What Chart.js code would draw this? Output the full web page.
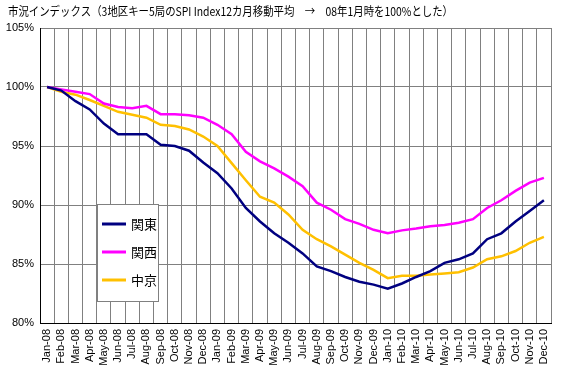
<!DOCTYPE html>
<html>
<head>
<meta charset="utf-8">
<script src="https://cdn.jsdelivr.net/npm/chart.js@4"></script>
<style>
html,body{margin:0;padding:0;background:#fff;}
#wrap{position:relative;width:566px;height:380px;}
</style>
</head>
<body>
<div id="wrap"><canvas id="c" width="566" height="380"></canvas></div>
<script>
const titleText = "市況インデックス（3地区キー5局のSPI Index12カ月移動平均　→　08年1月時を100%とした）";
const categories = [
  "Jan-08","Feb-08","Mar-08","Apr-08","May-08","Jun-08","Jul-08","Aug-08","Sep-08","Oct-08","Nov-08","Dec-08",
  "Jan-09","Feb-09","Mar-09","Apr-09","May-09","Jun-09","Jul-09","Aug-09","Sep-09","Oct-09","Nov-09","Dec-09",
  "Jan-10","Feb-10","Mar-10","Apr-10","May-10","Jun-10","Jul-10","Aug-10","Sep-10","Oct-10","Nov-10","Dec-10"
];
const seriesNames = ["関東","関西","中京"];
const kanto = [100,99.7,98.8,98.1,96.9,96.0,96.0,96.0,95.1,95.0,94.6,93.6,
  92.7,91.4,89.75,88.6,87.6,86.8,85.9,84.8,84.4,83.9,83.5,83.25,
  82.9,83.35,83.9,84.4,85.1,85.4,85.9,87.1,87.6,88.6,89.5,90.4];
const kansai = [100,99.8,99.6,99.4,98.6,98.3,98.2,98.4,97.7,97.7,97.6,97.4,
  96.8,96.0,94.5,93.7,93.1,92.4,91.6,90.2,89.6,88.8,88.4,87.9,
  87.6,87.85,88.0,88.2,88.3,88.5,88.8,89.75,90.4,91.2,91.9,92.3];
const chukyo = [100,99.6,99.35,98.9,98.4,97.9,97.65,97.4,96.8,96.7,96.4,95.8,
  95.0,93.55,92.1,90.7,90.2,89.2,87.9,87.1,86.5,85.8,85.1,84.5,
  83.8,84.0,84.0,84.1,84.2,84.3,84.7,85.4,85.65,86.1,86.8,87.3];
const seriesColors = ["#000080","#FF00FF","#FFC000"];
const yTicks = [80,85,90,95,100,105];

const titlePlugin = {
  id: 'customTitle',
  afterDraw(chart){
    const ctx = chart.ctx;
    ctx.save();
    ctx.fillStyle = '#000';
    ctx.font = '12px "Noto Sans CJK JP", sans-serif';
    ctx.textBaseline = 'middle';
    ctx.textAlign = 'left';
    ctx.fillText(titleText, 8, 11, 445);
    ctx.restore();
  }
};

const legendPlugin = {
  id: 'boxLegend',
  afterDraw(chart){
    const ctx = chart.ctx;
    const x0 = 97, y0 = 204, w = 61, h = 97;
    ctx.save();
    ctx.fillStyle = '#fff';
    ctx.fillRect(x0, y0, w, h);
    ctx.strokeStyle = '#808080';
    ctx.lineWidth = 1;
    ctx.strokeRect(x0 + 0.5, y0 + 0.5, w, h);
    chart.data.datasets.forEach((ds, i) => {
      const y = y0 + 20 + i * 28;
      ctx.strokeStyle = ds.borderColor;
      ctx.lineWidth = 3;
      ctx.beginPath();
      ctx.moveTo(x0 + 5, y);
      ctx.lineTo(x0 + 29, y);
      ctx.stroke();
      ctx.fillStyle = '#000';
      ctx.font = '13px "Noto Sans CJK JP", sans-serif';
      ctx.textBaseline = 'middle';
      ctx.textAlign = 'left';
      ctx.fillText(ds.label, x0 + 34, y);
    });
    ctx.restore();
  }
};

const data = {
  labels: categories,
  datasets: [kanto, kansai, chukyo].map((arr, i) => ({
    label: seriesNames[i],
    data: arr,
    borderColor: seriesColors[i],
    backgroundColor: seriesColors[i],
    borderWidth: 2.5,
    pointRadius: 0,
    tension: 0,
    fill: false
  }))
};

new Chart(document.getElementById('c'), {
  type: 'line',
  data: data,
  options: {
    responsive: false,
    animation: false,
    layout: { padding: { top: 28, right: 15, left: 0, bottom: 0 } },
    plugins: { legend: { display: false }, title: { display: false }, tooltip: { enabled: false } },
    scales: {
      x: {
        offset: true,
        grid: { offset: true, color: '#808080', lineWidth: 1, drawTicks: false },
        border: { color: '#000', width: 1 },
        ticks: {
          autoSkip: false, maxRotation: 90, minRotation: 90, padding: 6,
          color: '#000', font: { family: '"Liberation Sans", Arial, sans-serif', size: 11 }
        },
        afterFit(s){ s.height = 57; }
      },
      y: {
        min: 80, max: 105,
        afterBuildTicks(s){ s.ticks = yTicks.map(v => ({ value: v })); },
        grid: { color: '#808080', lineWidth: 1, drawTicks: false },
        border: { color: '#000', width: 1 },
        ticks: {
          padding: 6, color: '#000',
          font: { family: '"Liberation Sans", Arial, sans-serif', size: 11 },
          callback: v => v + '%'
        },
        afterFit(s){ s.width = 40; }
      }
    }
  },
  plugins: [titlePlugin, legendPlugin]
});
</script>
</body>
</html>
